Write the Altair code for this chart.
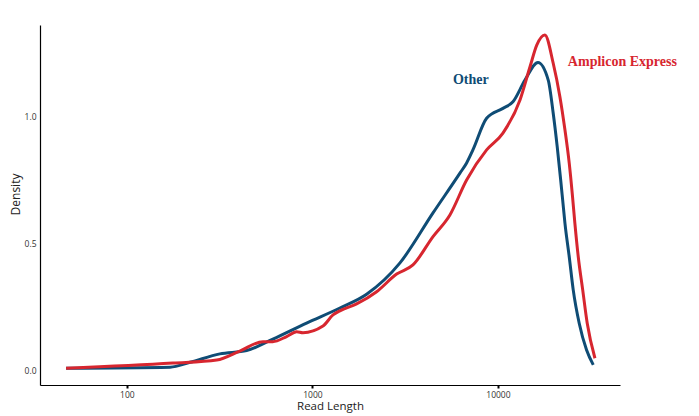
import altair as alt
import pandas as pd

# Read length (bp) and density values
other_len = [47, 171, 219, 317, 442, 612, 930, 1406, 1959, 2965, 4467, 6240, 6780, 7330,
             8690, 10640, 12050, 13990, 16440, 18670, 19860, 20870, 21790, 22330, 22980,
             24230, 25460, 27420, 30050, 32650]
other_den = [0.011, 0.015, 0.034, 0.067, 0.080, 0.125, 0.188, 0.247, 0.301, 0.424, 0.620,
             0.776, 0.816, 0.867, 0.991, 1.030, 1.056, 1.141, 1.210, 1.141, 1.011, 0.880,
             0.749, 0.671, 0.579, 0.448, 0.318, 0.187, 0.082, 0.024]

amp_len = [47, 177, 305, 406, 541, 612, 726, 822, 889, 1140, 1291, 1406, 1730, 2218, 2844,
           3483, 4467, 5510, 6780, 8690, 10640, 13150, 14890, 16190, 17900, 19860, 21580,
           22980, 24230, 25240, 25990, 27100, 28640, 30290, 33340]
amp_den = [0.011, 0.031, 0.043, 0.078, 0.115, 0.115, 0.135, 0.154, 0.150, 0.176, 0.220,
           0.236, 0.263, 0.311, 0.380, 0.416, 0.527, 0.612, 0.749, 0.867, 0.933, 1.063,
           1.193, 1.278, 1.318, 1.207, 1.076, 0.945, 0.815, 0.684, 0.579, 0.448, 0.318,
           0.187, 0.050]

groups = ["Other", "Amplicon Express"]
colors = ["#0f4c75", "#d7262f"]
label_x = [5717, 23820]
label_y = [1.141, 1.212]

df = pd.concat([
    pd.DataFrame({"len": other_len, "den": other_den, "group": "Other", "order": range(len(other_len))}),
    pd.DataFrame({"len": amp_len, "den": amp_den, "group": "Amplicon Express", "order": range(len(amp_len))}),
])
labels = pd.DataFrame({"group": groups, "len": label_x, "den": label_y})

xscale = alt.Scale(type="log", domain=[34, 45500], nice=False)
yscale = alt.Scale(domain=[-0.055, 1.357], nice=False, zero=False)
cscale = alt.Scale(domain=groups, range=colors)

lines = alt.Chart(df).mark_line(strokeWidth=3, interpolate="monotone").encode(
    x=alt.X("len:Q", scale=xscale, title="Read Length",
            axis=alt.Axis(values=[100, 1000, 10000], format="d", grid=False,
                          ticks=True, tickSize=3, tickWidth=2, tickColor="black",
                          domainColor="black", domainWidth=1.2,
                          labelFont="Open Sans", labelFontSize=8.5, labelColor="#333333",
                          labelPadding=2, titleFont="Open Sans", titleFontSize=11.5,
                          titleFontWeight="normal", titleColor="#222222", titlePadding=2)),
    y=alt.Y("den:Q", scale=yscale, title="Density",
            axis=alt.Axis(values=[0.0, 0.5, 1.0], format=".1f", grid=False, ticks=False,
                          domainColor="black", domainWidth=1.2,
                          labelFont="Open Sans", labelFontSize=8.5, labelColor="#333333",
                          labelPadding=4, titleFont="Open Sans", titleFontSize=12,
                          titleFontWeight="normal", titleColor="#222222",
                          titleX=-18, titleY=169)),
    color=alt.Color("group:N", scale=cscale, legend=None),
    order="order:Q",
    detail="group:N",
)

text = alt.Chart(labels).mark_text(font="Liberation Serif", fontWeight="bold", fontSize=14,
                                   align="left", baseline="middle").encode(
    x=alt.X("len:Q", scale=xscale),
    y=alt.Y("den:Q", scale=yscale),
    text="group:N",
    color=alt.Color("group:N", scale=cscale, legend=None),
)

chart = (lines + text).properties(
    width=580, height=360,
    autosize=alt.AutoSizeParams(type="none"),
    padding={"left": 40, "top": 25, "right": 79, "bottom": 31},
    background="white",
).configure_view(stroke=None, strokeWidth=0)

chart.save("out.html", embed_options={"renderer": "svg", "actions": False})
